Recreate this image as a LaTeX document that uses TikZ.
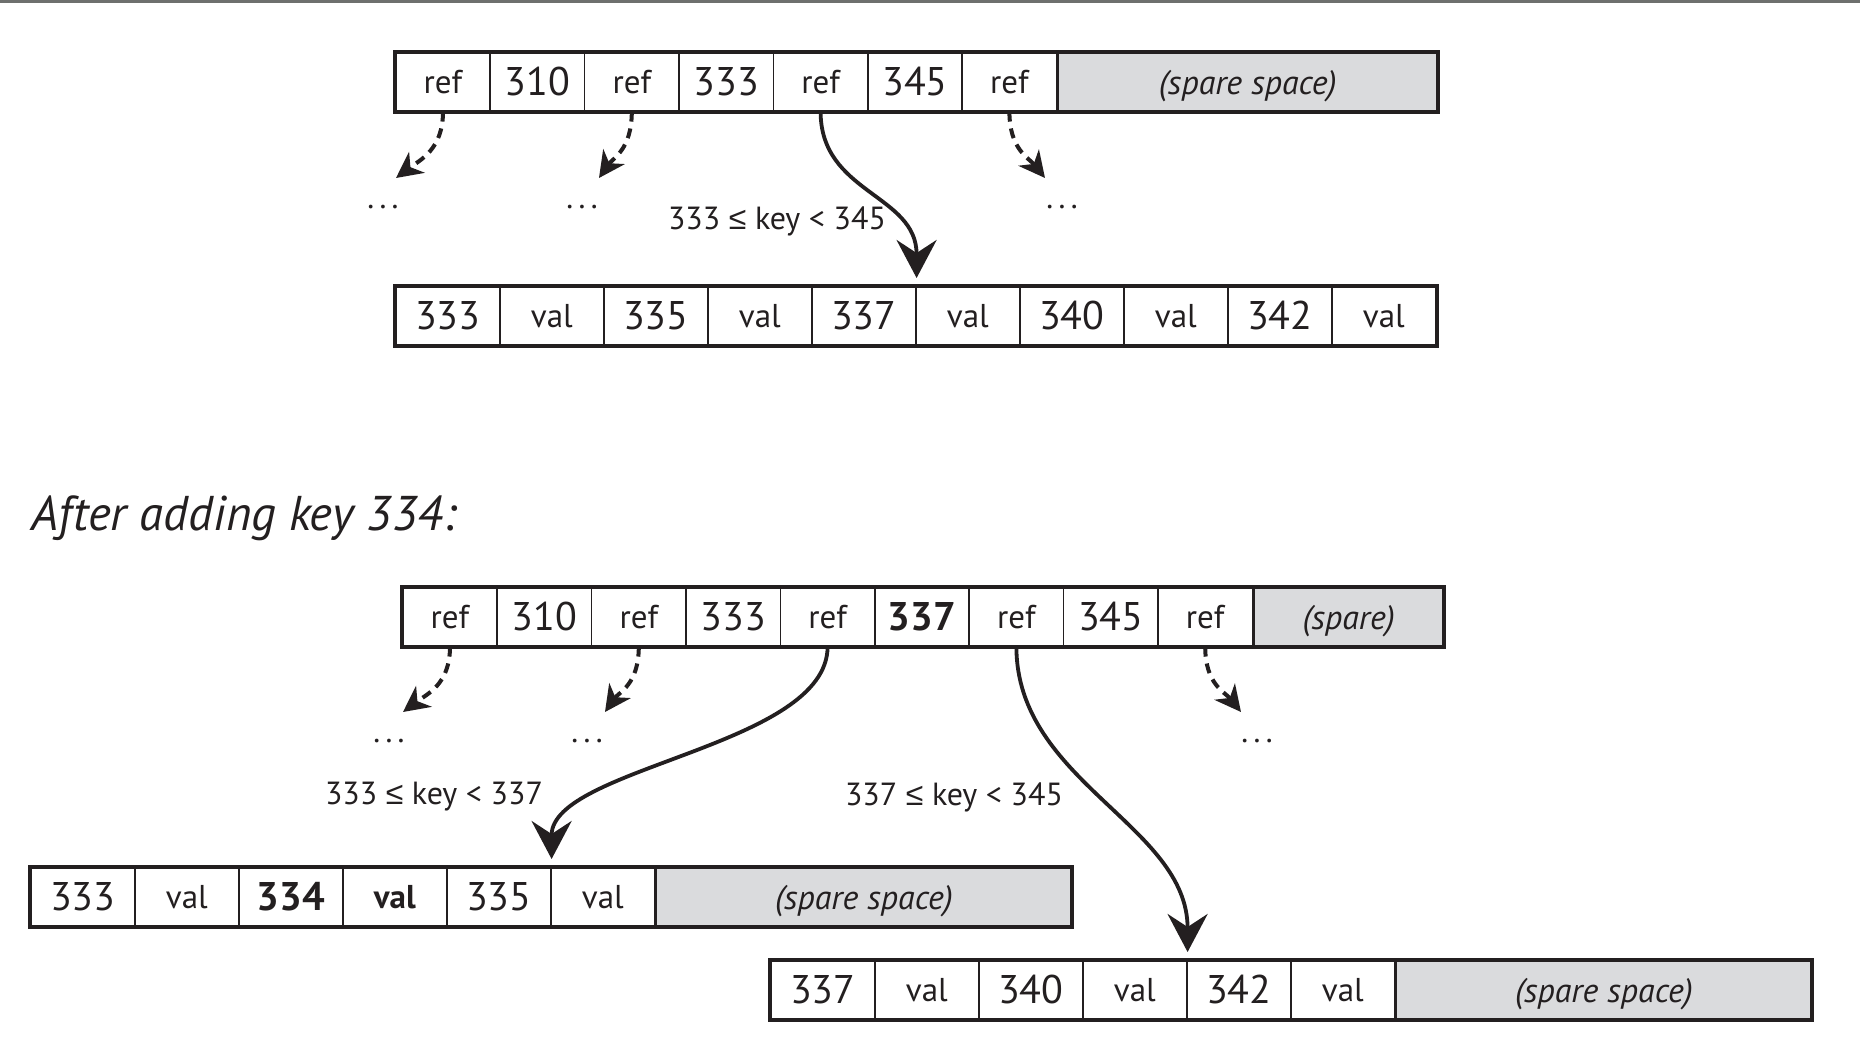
\documentclass[tikz,border=0pt]{standalone}
\usepackage{fontspec}
\setmainfont{PT Sans}
\newfontfamily\relfont{Liberation Sans}
\usetikzlibrary{arrows.meta}
\definecolor{sparefill}{RGB}{218,219,221}
\definecolor{ink}{RGB}{35,31,32}
\definecolor{rulegray}{RGB}{110,112,110}
\newcommand{\lessequal}{{\relfont ≤}}
\newcommand{\threedots}{.\,.\,.}
\newcommand{\sparetext}[1]{\raisebox{-2pt}[\height][\depth]{#1}}

\begin{document}
\begin{tikzpicture}[x=0.5pt,y=-0.5pt,
  cell/.style={draw=ink, line width=0.8pt, inner sep=0pt, minimum height=29pt,
    anchor=north west, text=ink},
  kcell/.style={cell, minimum width=47.2pt},
  vcell/.style={cell, minimum width=52pt},
  numtxt/.style={font=\fontsize{20}{20}\selectfont},
  wordtxt/.style={font=\fontsize{16.5}{16.5}\selectfont},
  numbold/.style={font=\fontsize{20}{20}\selectfont\bfseries},
  wordbold/.style={font=\fontsize{16.5}{16.5}\selectfont\bfseries},
  sparecell/.style={cell, fill=sparefill, font=\fontsize{17}{17}\selectfont\itshape},
  boxframe/.style={draw=ink, line width=2pt},
  linkarrow/.style={draw=ink, line width=1.9pt,
    -{Stealth[length=19pt, width=20pt, inset=6.5pt]}, shorten >=4pt},
  dasharrow/.style={draw=ink, line width=2pt, dash pattern=on 5pt off 3.5pt,
    -{Stealth[length=13pt, width=13pt, inset=4pt]}},
  rangelabel/.style={text=ink, font=\fontsize{16}{16}\selectfont},
  moredots/.style={text=ink, font=\fontsize{16}{16}\selectfont},
]
\useasboundingbox (0,0) rectangle (1860,1054);
\fill[white] (0,0) rectangle (1860,1054);
\fill[rulegray] (0,0) rectangle (1860,3);

% ---- inner node before the insert ----
\foreach \s/\t [count=\i] in {wordtxt/ref, numtxt/310, wordtxt/ref, numtxt/333,
    wordtxt/ref, numtxt/345, wordtxt/ref}
  \node[kcell, \s] (a\i) at ({395+(\i-1)*94.4},52) {\t};
\node[sparecell, minimum width=189.6pt] (asp) at (a7.north east) {\sparetext{(spare space)}};
\draw[boxframe] (a1.north west) rectangle (asp.south east);

% ---- leaf before the insert ----
\foreach \s/\t [count=\i] in {numtxt/333, wordtxt/val, numtxt/335, wordtxt/val,
    numtxt/337, wordtxt/val, numtxt/340, wordtxt/val, numtxt/342, wordtxt/val}
  \node[vcell, \s] (b\i) at ({395+(\i-1)*104},286) {\t};
\draw[boxframe] (b1.north west) rectangle (b10.south east);

% ---- pointers from the inner node ----
\coordinate (ta1) at (396,178);
\coordinate (ta3) at (599,178);
\coordinate (ta7) at (1045,178);
\draw[dasharrow] (a1.south) .. controls +(0,38) and +(24,-18) .. (ta1);
\draw[dasharrow] (a3.south) .. controls +(0,38) and +(14,-20) .. (ta3);
\draw[dasharrow] (a7.south) .. controls +(0,38) and +(-16,-20) .. (ta7);
\node[moredots] (da1) at (383,207) {\threedots};
\node[moredots] (da3) at (582,207) {\threedots};
\node[moredots] (da7) at (1062,207) {\threedots};
\draw[linkarrow] (a5.south) .. controls +(0,82) and +(0,-92) .. (b5.north east);
\node[rangelabel] (la) at (777,221) {333 \lessequal{} key < 345};

% ---- caption ----
\node[anchor=west, inner sep=0pt, text=ink, font=\fontsize{24.4}{24.4}\selectfont\itshape]
  (cap) at (31,518) {After adding key 334:};

% ---- inner node after the insert ----
\foreach \s/\t [count=\i] in {wordtxt/ref, numtxt/310, wordtxt/ref, numtxt/333,
    wordtxt/ref, numbold/337, wordtxt/ref, numtxt/345, wordtxt/ref}
  \node[kcell, \s] (c\i) at ({402+(\i-1)*94.4},587) {\t};
\node[sparecell, minimum width=94.7pt] (csp) at (c9.north east) {\sparetext{(spare)}};
\draw[boxframe] (c1.north west) rectangle (csp.south east);

% ---- left leaf after the split ----
\foreach \s/\t [count=\i] in {numtxt/333, wordtxt/val, numbold/334, wordbold/val,
    numtxt/335, wordtxt/val}
  \node[vcell, \s] (d\i) at ({30+(\i-1)*104},867) {\t};
\node[sparecell, minimum width=207.5pt] (dsp) at (d6.north east) {\sparetext{(spare space)}};
\draw[boxframe] (d1.north west) rectangle (dsp.south east);

% ---- right leaf after the split ----
\foreach \s/\t [count=\i] in {numtxt/337, wordtxt/val, numtxt/340, wordtxt/val,
    numtxt/342, wordtxt/val}
  \node[vcell, \s] (e\i) at ({770+(\i-1)*104},960) {\t};
\node[sparecell, minimum width=207.5pt] (esp) at (e6.north east) {\sparetext{(spare space)}};
\draw[boxframe] (e1.north west) rectangle (esp.south east);

% ---- pointers from the new inner node ----
\coordinate (tc1) at (403,712);
\coordinate (tc3) at (605,712);
\coordinate (tc9) at (1241,712);
\draw[dasharrow] (c1.south) .. controls +(0,38) and +(24,-18) .. (tc1);
\draw[dasharrow] (c3.south) .. controls +(0,38) and +(14,-20) .. (tc3);
\draw[dasharrow] (c9.south) .. controls +(0,38) and +(-16,-20) .. (tc9);
\node[moredots] (dc1) at (389,741) {\threedots};
\node[moredots] (dc3) at (587,741) {\threedots};
\node[moredots] (dc9) at (1257,741) {\threedots};
\draw[linkarrow] (c5.south) .. controls +(0,100) and +(0,-100) .. (d5.north east);
\draw[linkarrow] (c7.south) .. controls +(0,135) and +(0,-135) .. (e4.north east);
\node[rangelabel] (lc5) at (434,797) {333 \lessequal{} key < 337};
\node[rangelabel] (lc7) at (954,797) {337 \lessequal{} key < 345};
\end{tikzpicture}
\end{document}
